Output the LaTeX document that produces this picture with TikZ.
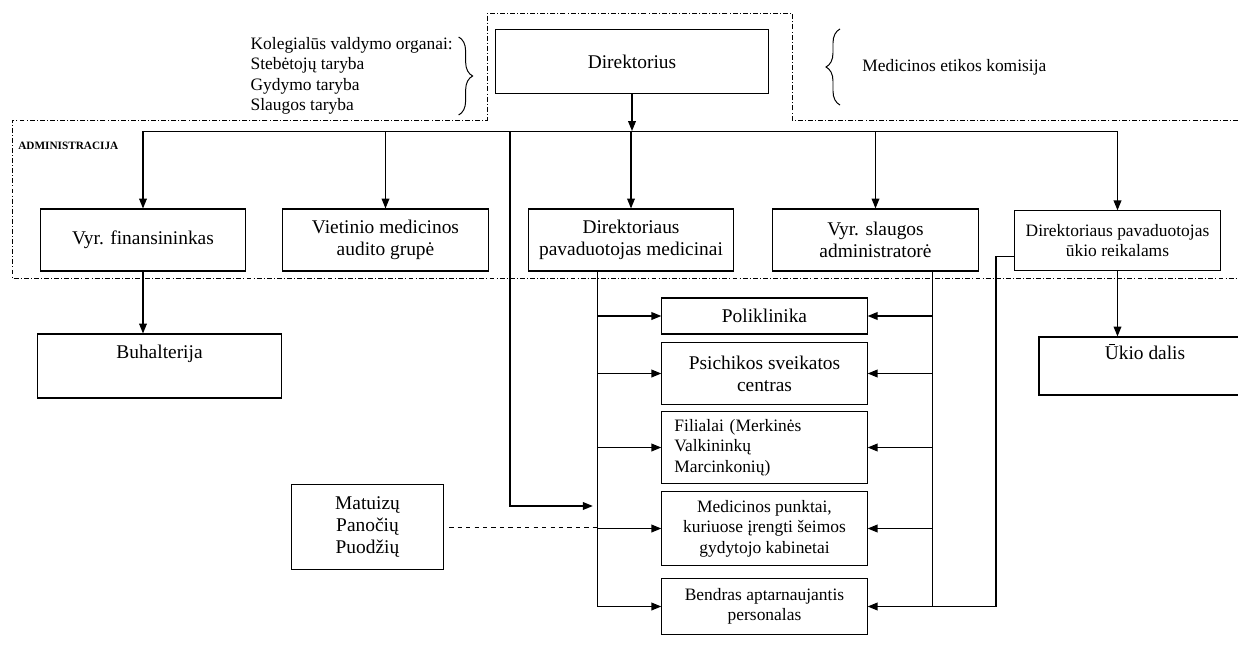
\documentclass[tikz,border=0pt]{standalone}
\usepackage{fontspec}
\setmainfont{Liberation Serif}
\usetikzlibrary{arrows.meta,positioning,calc,decorations.pathreplacing}

\begin{document}
\begin{tikzpicture}[x=0.025cm, y=-0.025cm,
      >={Triangle[length=7pt,width=5.5pt]},
      box/.style={draw, line width=0.8pt, align=center, inner sep=2pt,
                  minimum width=5.13cm, minimum height=1.55cm,
                  font=\fontsize{13.8}{15.5}\selectfont},
      sbox/.style={box, font=\fontsize{12.4}{14.5}\selectfont},
      arr/.style={->, line width=0.8pt},
      link/.style={line width=0.7pt},
      border/.style={line width=0.5pt,
                     dash pattern=on 3.5pt off 1.5pt on 0.7pt off 1.5pt},
      side/.style={align=left, inner sep=0pt,
                   font=\fontsize{12.4}{14.6}\selectfont}
    ]
    \useasboundingbox (0,0) rectangle (1238,664);

    % top: director and the boards beside it
    \node[box, minimum width=6.83cm, minimum height=1.58cm] (dir) at (632,61.5)
          {Direktorius};
    \node[side, anchor=east] (kol) at (453,76)
          {Kolegialūs valdymo organai:\\Stebėtojų taryba\\Gydymo taryba\\Slaugos taryba};
    \node[side, anchor=west] (mek) at (862,67) {Medicinos etikos komisija};

    \draw[link, decorate, decoration={brace, amplitude=0.35cm}]
      ([xshift=4pt]kol.north east) -- ([xshift=4pt]kol.south east);
    \draw[link, decorate, decoration={brace, amplitude=0.35cm}]
      ([xshift=-0.55cm, yshift=-0.95cm]mek.west) -- ([xshift=-0.55cm, yshift=0.95cm]mek.west);

    % administration row
    \node[anchor=west, inner sep=0pt, font=\fontsize{8}{9}\selectfont\bfseries]
          (adm) at (18,146) {ADMINISTRACIJA};
    \node[box] (vf)   at (143,240)    {Vyr. finansininkas};
    \node[box] (vmag) at (385.5,240)  {Vietinio medicinos\\audito grupė};
    \node[box] (dpm)  at (631,240)    {Direktoriaus\\pavaduotojas medicinai};
    \node[box] (vsa)  at (875.5,240)  {Vyr. slaugos\\administratorė};
    \node[sbox, minimum height=1.48cm] (dpu) at (1117.5,240.5)
          {Direktoriaus pavaduotojas\\ūkio reikalams};

    \node[box, minimum width=6.08cm, minimum height=1.6cm] (buh) at (159.5,366)
          {Buhalterija\\\strut};
    \node[box, minimum width=5.3cm, minimum height=1.45cm] (ukio) at (1145,366)
          {Ūkio dalis\\\strut};

    % units
    \node[box, minimum height=0.9cm]  (pol)  at (764.5,316)   {Poliklinika};
    \node[box, minimum height=1.53cm] (psi)  at (764.5,373.5) {Psichikos sveikatos\\centras};
    \node[sbox, minimum height=1.78cm, align=left, text width=4.5cm] (fil) at (764.5,447.5)
          {Filialai (Merkinės\\Valkininkų\\Marcinkonių)};
    \node[sbox, minimum height=1.83cm] (medp) at (764.5,528.5)
          {Medicinos punktai,\\kuriuose įrengti šeimos\\gydytojo kabinetai};
    \node[sbox, minimum height=1.38cm] (bend) at (764.5,606.5)
          {Bendras aptarnaujantis\\personalas};
    \node[box, minimum width=3.78cm, minimum height=2.13cm] (mat) at (367.5,527)
          {Matuizų\\Panočių\\Puodžių};

    \coordinate (tree) at (0,131);
    \coordinate (lbus) at (597,0);
    \coordinate (rbus) at (932,0);
    \coordinate (ubus) at (996,0);
    \coordinate (side) at (510,506);

    % dash-dot frame
    \draw[border] (1238,120) -- (792,120) -- (792,13) -- (487,13) -- (487,120)
                  -- (12,120) -- (12,278) -- (1238,278);

    % tree
    \draw[arr] (dir.south) -- (dir.south |- tree);
    \draw[link] (vf.north |- tree) -- (dpu.north |- tree);
    \foreach \n in {vf,vmag,dpm,vsa,dpu}
      \draw[arr] (\n.north |- tree) -- (\n.north);
    \draw[arr] (vf.south) -- (vf.south |- buh.north);
    \draw[arr] (dpu.south) -- (dpu.south |- ukio.north);

    \draw[link] (lbus |- dpm.south) -- (lbus |- bend.west);
    \foreach \n in {pol,psi,fil,medp,bend}
      \draw[arr] (lbus |- \n.west) -- (\n.west);

    \draw[link] (rbus |- vsa.south) -- (rbus |- bend.east);
    \foreach \n in {pol,psi,fil,medp}
      \draw[arr] (rbus |- \n.east) -- (\n.east);
    \draw[arr] ([yshift=0.35cm]dpu.south west) -| (ubus |- bend.east) -- (bend.east);

    \draw[arr] (side |- tree) |- ([xshift=-3pt]lbus |- side);
    \draw[link, dashed] ([xshift=4pt]mat.east) -- (lbus |- mat.east);
  \end{tikzpicture}
\end{document}
